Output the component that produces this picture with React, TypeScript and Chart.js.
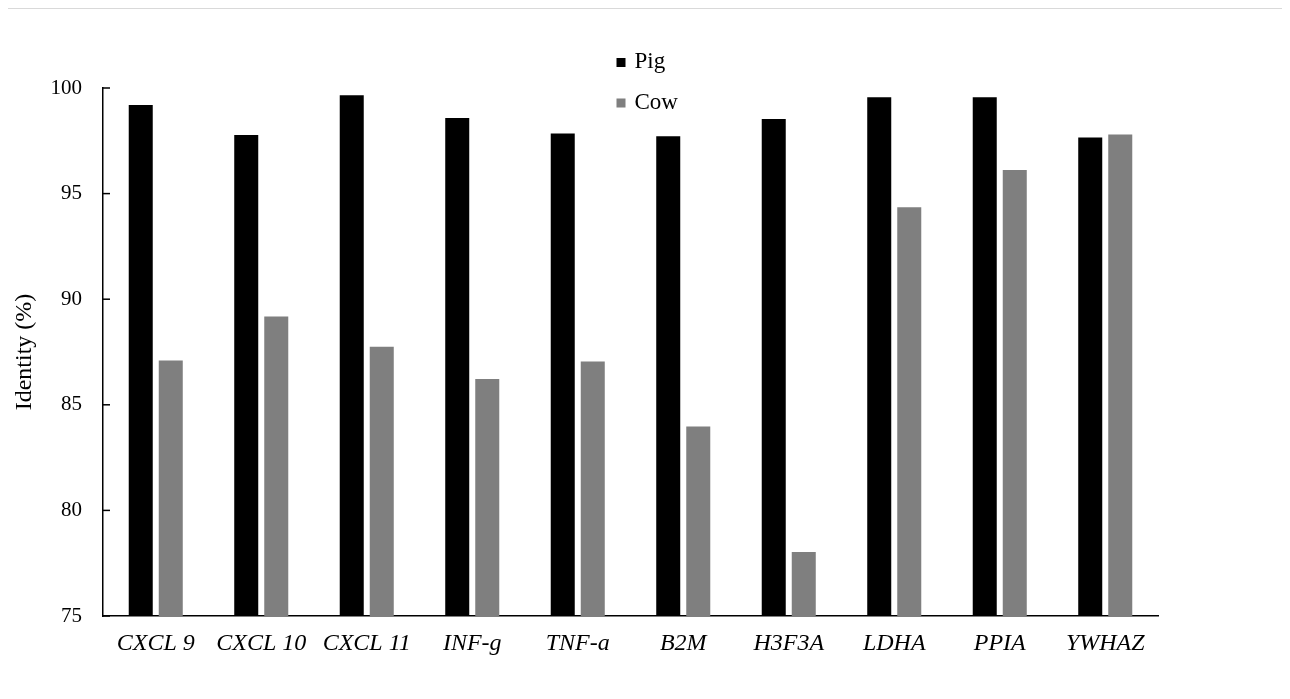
import React, { useEffect, useRef } from 'react';
import { Chart, registerables } from 'chart.js';

Chart.register(...registerables);

const categories = ['CXCL 9', 'CXCL 10', 'CXCL 11', 'INF-g', 'TNF-a', 'B2M', 'H3F3A', 'LDHA', 'PPIA', 'YWHAZ'];
const pigValues = [99.2, 97.77, 99.66, 98.58, 97.85, 97.72, 98.53, 99.56, 99.56, 97.66];
const cowValues = [87.1, 89.18, 87.75, 86.22, 87.05, 83.97, 78.03, 94.35, 96.12, 97.8];
const seriesNames = ['Pig', 'Cow'];
const seriesColors = ['#000000', '#7f7f7f'];
const yMin = 75;
const yMax = 100;
const yStep = 5;
const yTitle = 'Identity (%)';

const FONT = '"Liberation Serif", "Times New Roman", Times, serif';

export default function App() {
  const ref = useRef<HTMLCanvasElement | null>(null);

  useEffect(() => {
    if (!ref.current) return;

    const innerTicks = {
      id: 'innerTicks',
      afterDatasetsDraw(chart: any) {
        const ys = chart.scales.y;
        const ctx = chart.ctx;
        const left = chart.chartArea.left;
        ctx.save();
        ctx.strokeStyle = '#000';
        ctx.lineWidth = 1.5;
        ys.ticks.forEach((_t: any, i: number) => {
          const py = ys.getPixelForTick(i);
          ctx.beginPath();
          ctx.moveTo(left, py);
          ctx.lineTo(left + 7, py);
          ctx.stroke();
        });
        ctx.restore();
      },
    };

    const columnLegend = {
      id: 'columnLegend',
      afterDraw(chart: any) {
        const ctx = chart.ctx;
        const ca = chart.chartArea;
        const cx = (ca.left + ca.right) / 2 - 14;
        ctx.save();
        ctx.font = `23px ${FONT}`;
        ctx.textBaseline = 'alphabetic';
        ctx.textAlign = 'left';
        chart.data.datasets.forEach((ds: any, i: number) => {
          const base = ca.top - 20 + i * 40.5;
          ctx.fillStyle = ds.backgroundColor;
          ctx.fillRect(cx, base - 10, 9, 9);
          ctx.fillStyle = '#000';
          ctx.fillText(ds.label, cx + 18, base);
        });
        ctx.restore();
      },
    };

    const chart = new Chart(ref.current, {
      type: 'bar',
      data: {
        labels: categories,
        datasets: [
          {
            label: seriesNames[0],
            data: pigValues,
            backgroundColor: seriesColors[0],
            borderWidth: 0,
            categoryPercentage: 0.569,
            barPercentage: 0.8,
          },
          {
            label: seriesNames[1],
            data: cowValues,
            backgroundColor: seriesColors[1],
            borderWidth: 0,
            categoryPercentage: 0.569,
            barPercentage: 0.8,
          },
        ],
      },
      options: {
        animation: false,
        responsive: true,
        maintainAspectRatio: false,
        devicePixelRatio: 1,
        layout: { padding: { top: 79, right: 130, bottom: 41, left: 0 } },
        plugins: {
          legend: { display: false },
          tooltip: { enabled: false },
        },
        scales: {
          x: {
            grid: { display: true, drawOnChartArea: false, drawTicks: false },
            border: { display: true, color: '#000', width: 1.5 },
            ticks: {
              color: '#000',
              padding: 13,
              maxRotation: 0,
              autoSkip: false,
              font: { family: FONT, size: 24, style: 'italic' },
            },
            afterFit(scale: any) {
              scale.height = 42;
            },
          },
          y: {
            min: yMin,
            max: yMax,
            grid: { display: true, drawOnChartArea: false, drawTicks: false },
            border: { display: true, color: '#000', width: 1.5 },
            ticks: {
              stepSize: yStep,
              color: '#000',
              padding: 21,
              font: { family: FONT, size: 21 },
            },
            title: {
              display: true,
              text: yTitle,
              color: '#000',
              padding: { top: 2, bottom: 0 },
              font: { family: FONT, size: 24 },
            },
            afterFit(scale: any) {
              scale.width = 95;
            },
          },
        },
      },
      plugins: [innerTicks, columnLegend],
    } as any);

    return () => chart.destroy();
  }, []);

  return (
    <div
      style={{
        marginLeft: -1,
        marginBottom: -8,
        width: 1282,
        height: 691,
        boxSizing: 'border-box',
        border: '1px solid #d9d9d9',
        borderBottom: 'none',
        background: '#fff',
      }}
    >
      <div style={{ position: 'relative', width: 1280, height: 690 }}>
        <canvas ref={ref} />
      </div>
    </div>
  );
}
